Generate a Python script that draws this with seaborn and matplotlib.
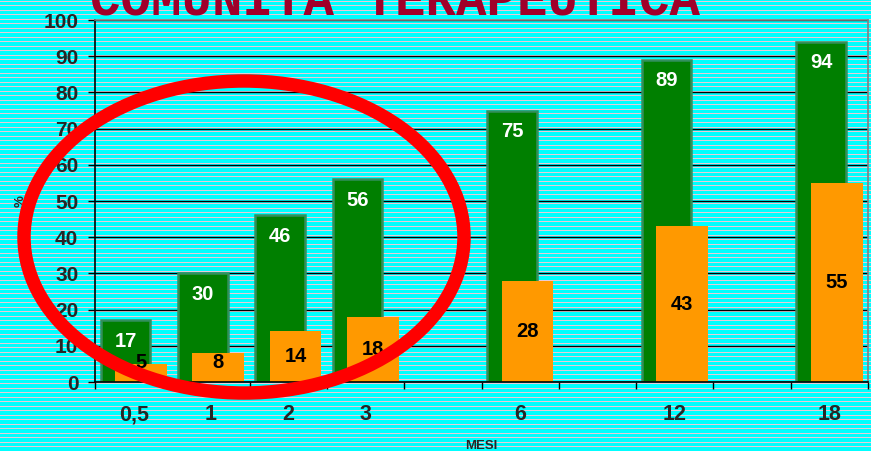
import numpy as np
import pandas as pd
import matplotlib.pyplot as plt
from matplotlib.patches import Ellipse
import seaborn as sns

# Data
mesi = ["0,5", "1", "2", "3", "6", "12", "18"]
verde = [17, 30, 46, 56, 75, 89, 94]
arancio = [5, 8, 14, 18, 28, 43, 55]

sns.set_style("ticks")
plt.rcParams["font.family"] = ["Liberation Sans", "DejaVu Sans"]
plt.rcParams["font.weight"] = "bold"

fig = plt.figure(figsize=(8.71, 4.51), dpi=100)

# striped cyan background
bg = fig.add_axes([0, 0, 1, 1])
rows = np.zeros((451, 1, 3))
rows[:] = (0.0, 1.0, 1.0)
for i in range(451):
    if i % 9 in (1, 5):
        rows[i] = (0.92, 0.80, 0.84)
bg.imshow(rows, aspect="auto", interpolation="nearest")
bg.axis("off")

ax = fig.add_axes([95 / 871, 1 - 382 / 451, 773 / 871, 362 / 451])
ax.set_facecolor("none")

# category slots (empty slots between 3-6, 6-12, 12-18)
slot = [0, 1, 2, 3, 5, 7, 9]
df = pd.DataFrame({"mesi": mesi, "slot": slot, "verde": verde, "arancio": arancio})
df["x_verde"] = df["slot"] - 0.105
df["x_arancio"] = df["slot"] + 0.095

sns.barplot(data=df, x="x_verde", y="verde", native_scale=True, orient="x",
            width=0.64, color="#007f00", edgecolor="#33905e", linewidth=1.8,
            errorbar=None, saturation=1, ax=ax)
sns.barplot(data=df, x="x_arancio", y="arancio", native_scale=True, orient="x",
            width=0.67, color="#ff9900", linewidth=0,
            errorbar=None, saturation=1, ax=ax)

ax.bar_label(ax.containers[0], padding=-22, color="white", fontsize=14.5,
             fontweight="bold")
lab = ax.bar_label(ax.containers[1], label_type="center", color="black",
                   fontsize=14.5, fontweight="bold")
# small bars: label sits a bit higher than the bar centre, as in the original
pt_per_unit = (362 / 100) / (100 / 72)
for t, v in zip(lab, arancio):
    t.xyann = (0, (max(v / 2, 5.3) - v / 2) * pt_per_unit)

ax.set_xlim(-0.5, 9.5)
ax.set_ylim(0, 100)
ax.set_yticks(range(0, 101, 10))
ax.tick_params(axis="y", length=5, width=1, labelsize=15, pad=7, color="black")

ax.set_xticks(np.arange(-0.5, 9.6, 1))
ax.set_xticklabels([])
ax.set_xticks(slot, minor=True)
ax.set_xticklabels(mesi, minor=True)
ax.tick_params(axis="x", which="major", length=5, width=1, color="black")
ax.tick_params(axis="x", which="minor", length=0, labelsize=15.5, pad=16)

ax.yaxis.grid(True, color="black", linewidth=1)
ax.set_axisbelow(True)

for s in ["left", "bottom"]:
    ax.spines[s].set_color("black")
    ax.spines[s].set_linewidth(1.2)
for s in ["top", "right"]:
    ax.spines[s].set_color("#808080")
    ax.spines[s].set_linewidth(1.2)

ax.set_xlabel("MESI", fontsize=9.5, fontweight="bold")
ax.xaxis.set_label_coords(0.5, -0.16)
ax.set_ylabel("%", fontsize=9.5, fontweight="bold")
ax.yaxis.set_label_coords(-0.088, 0.5)

fig.text(90 / 871, 1 - 16 / 451, "COMUNITA TERAPEUTICA", family="Liberation Mono",
         fontweight="bold", fontsize=36.5, color="#a0002a", va="baseline")

ell = Ellipse((244 / 871, 1 - 237 / 451), width=440 / 871, height=312 / 451,
              transform=fig.transFigure, fill=False, edgecolor="#ff0000",
              linewidth=9.7, zorder=5)
fig.add_artist(ell)

fig.savefig("out.png", dpi=100)
